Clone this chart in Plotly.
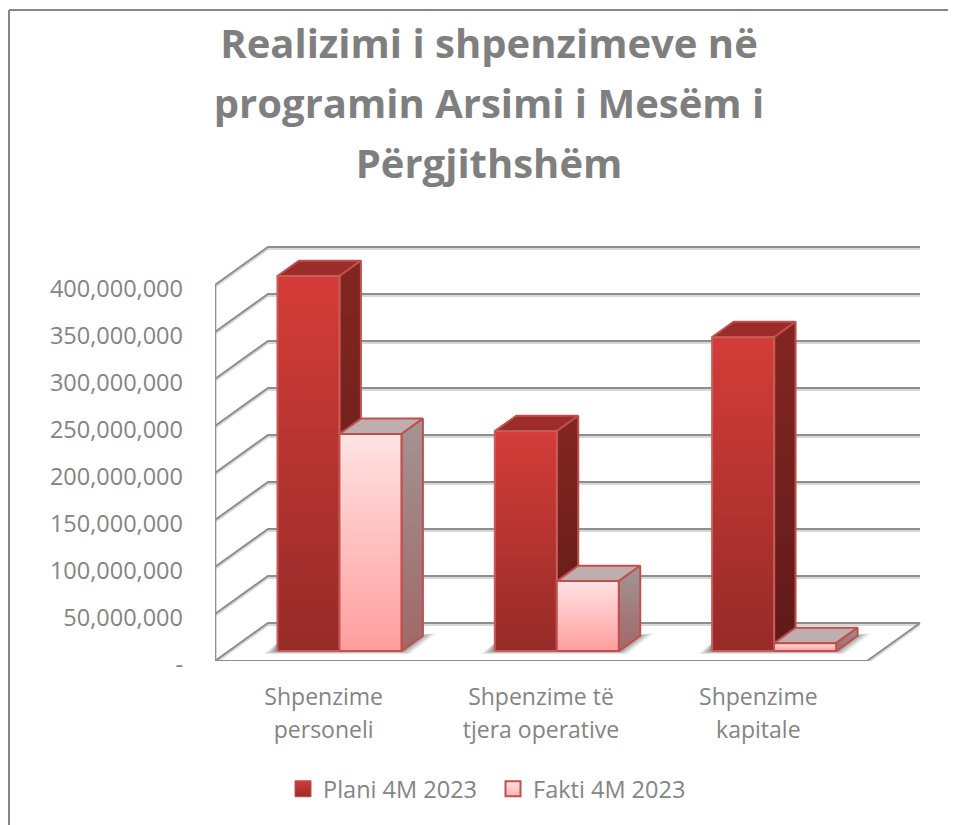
import plotly.graph_objects as go

# ---- data ----
categories = ["Shpenzime<br>personeli", "Shpenzime të<br>tjera operative", "Shpenzime<br>kapitale"]
plani = [399_000_000, 234_000_000, 334_000_000]
fakti = [231_000_000, 74_500_000, 8_500_000]
series_names = ["Plani 4M 2023", "Fakti 4M 2023"]
y_ticks = [0, 50_000_000, 100_000_000, 150_000_000, 200_000_000, 250_000_000,
           300_000_000, 350_000_000, 400_000_000]
y_ticktext = ["-"] + [f"{v:,}" for v in y_ticks[1:]]
title_lines = ["Realizimi i shpenzimeve në", "programin Arsimi i Mesëm i", "Përgjithshëm"]

# ---- geometry of the oblique projection (axis units) ----
PX_PER_UNIT = 0.94 / 1e6          # pixels per value unit
X_W = 652                         # floor width
BAND = X_W / 3
WALL_DX = 53                      # depth shift in x
WALL_DY = 38 / PX_PER_UNIT        # depth shift in y (value units)
BAR_W = 62
D_FRONT, D_BACK = 0.26, 0.665

TEXT = "#848484"
TITLE = "#7f7f7f"
GRID = "#8e8e8e"
GRID_SH = "#d8d8d8"
EDGE = "#c0504d"


def proj(x, v, d):
    return x + d * WALL_DX, v + d * WALL_DY


def poly(points):
    pts = [proj(*p) for p in points]
    pts.append(pts[0])
    return [p[0] for p in pts], [p[1] for p in pts]


def line_trace(points, color, width, dy=0):
    pts = [proj(*p) for p in points]
    return go.Scatter(x=[p[0] for p in pts], y=[p[1] - dy / PX_PER_UNIT for p in pts],
                      mode="lines", line=dict(color=color, width=width),
                      hoverinfo="skip", showlegend=False)


fig = go.Figure()

# walls and floor: shadow pass then line pass
top = y_ticks[-1]
for color, width, dy in [(GRID_SH, 2, 2), (GRID, 2, 0)]:
    for v in y_ticks:
        fig.add_trace(line_trace([(0, v, 0), (0, v, 1), (X_W, v, 1)], color, width, dy))
    fig.add_trace(line_trace([(0, 0, 0), (0, top, 0)], color, 2.5, 0))
    fig.add_trace(line_trace([(0, 0, 0), (X_W, 0, 0), (X_W, 0, 1)], color, width, dy))


def face(points, stops, edge, width=2):
    xs, ys = poly(points)
    fig.add_trace(go.Scatter(
        x=xs, y=ys, mode="lines", fill="toself",
        fillgradient=dict(type="vertical", colorscale=[[0, stops[0]], [1, stops[1]]]),
        line=dict(color=edge, width=width), hoverinfo="skip", showlegend=False))


def shadow(x0, x1):
    # soft contact shadow on the floor, layered translucent polygons
    u = 1 / PX_PER_UNIT
    for k, alpha in [(1.0, 0.10), (0.75, 0.14), (0.5, 0.18), (0.25, 0.22)]:
        xs, ys = poly([(x0 - 14 * k, -3 * k * u, D_FRONT), (x1 + 8 * k, -3 * k * u, D_FRONT),
                       (x1 + 21 + 14 * k, 16 * u + 2 * k * u, D_FRONT),
                       (x1 + 21, 16 * u, D_FRONT), (x0, 8 * u, D_FRONT)])
        fig.add_trace(go.Scatter(x=xs, y=ys, mode="lines", fill="toself",
                                 fillcolor=f"rgba(60,60,60,{alpha})",
                                 line=dict(width=0), hoverinfo="skip", showlegend=False))


def bar(x0, v, front, side, topc, edge, topedge):
    x1 = x0 + BAR_W
    face([(x0, v, D_FRONT), (x1, v, D_FRONT), (x1, v, D_BACK), (x0, v, D_BACK)], topc, topedge)
    face([(x1, 0, D_FRONT), (x1, v, D_FRONT), (x1, v, D_BACK), (x1, 0, D_BACK)], side, topedge)
    face([(x0, 0, D_FRONT), (x1, 0, D_FRONT), (x1, v, D_FRONT), (x0, v, D_FRONT)], front, edge)


for i in range(3):
    c = (i + 0.5) * BAND + 2
    shadow(c - BAR_W, c + BAR_W)
    bar(c - BAR_W, plani[i], ("#962b28", "#d43c38"), ("#5f1a17", "#842622"),
        ("#9c2c29", "#9c2c29"), "#c85c59", "#c0504d")
    bar(c, fakti[i], ("#ff9d9d", "#ffe3e3"), ("#a06868", "#a39494"),
        ("#bfaeae", "#bfaeae"), EDGE, EDGE)

# legend entries
fig.add_trace(go.Scatter(x=[None], y=[None], mode="markers", name=series_names[0],
                         marker=dict(symbol="square", size=16, color="#d03c38",
                                     gradient=dict(type="vertical", color="#9c2c29"),
                                     line=dict(color="#c0504d", width=1))))
fig.add_trace(go.Scatter(x=[None], y=[None], mode="markers", name=series_names[1],
                         marker=dict(symbol="square", size=15, color="#ffe3e3",
                                     gradient=dict(type="vertical", color="#ffb0b0"),
                                     line=dict(color="#c0504d", width=2))))

# The browser page has an 8px body margin, so page positions are shifted by OFF.
OFF = 8
W, H = 956 - OFF, 825 - OFF
L, T, B, R = 215 - OFF, 236 - OFF, 661 - OFF, 925 - OFF
px_x = lambda p: (p - OFF - L) / (R - L)
px_y = lambda p: (B - (p - OFF)) / (B - T)
frame = dict(type="line", xref="paper", yref="paper", line=dict(color="#868686", width=2), layer="below")
fig.add_shape(x0=px_x(9), x1=px_x(9), y0=px_y(10), y1=px_y(830), **frame)
fig.add_shape(x0=px_x(9), x1=px_x(960), y0=px_y(10), y1=px_y(10), **frame)

title_text = "<br>".join(f'<span style="font-size:40px">{t}</span>' for t in title_lines)
tick_x = [("<br>".join(f'<span style="font-size:23px">{p}</span>' for p in c.split("<br>")))
          for c in categories]

fig.update_layout(
    width=W, height=H,
    margin=dict(l=L, r=W - R, t=T, b=H - B, pad=0),
    paper_bgcolor="white", plot_bgcolor="white",
    font=dict(family="Open Sans", color=TEXT, size=23),
    title=dict(text=title_text, x=(489 - OFF) / W, xanchor="center", y=1 - 50 / H, yanchor="top",
               font=dict(family="Open Sans", size=46, color=TITLE, weight="bold")),
    xaxis=dict(range=[0, R - L], tickmode="array",
               tickvals=[(i + 0.5) * BAND for i in range(3)], ticktext=tick_x,
               showgrid=False, zeroline=False, showline=False, ticks="",
               tickfont=dict(size=25.4, color=TEXT), ticklabelstandoff=18),
    yaxis=dict(range=[0, (B - T) / PX_PER_UNIT], tickmode="array", tickvals=y_ticks,
               ticktext=y_ticktext, showgrid=False, zeroline=False, showline=False, ticks="",
               tickfont=dict(size=23.5, color=TEXT), ticklabelstandoff=31, ticklabelshift=4),
    legend=dict(orientation="h", x=px_x(283), xanchor="left",
                xref="paper", yref="paper", y=px_y(789), yanchor="middle",
                font=dict(size=23.5, color=TEXT), itemwidth=30, entrywidth=165,
                entrywidthmode="pixels", bgcolor="rgba(0,0,0,0)"),
)
fig.write_html("out.html")
